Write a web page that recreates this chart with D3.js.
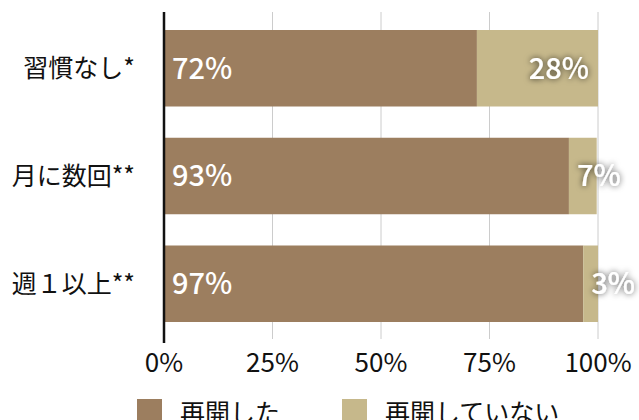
<!DOCTYPE html>
<html>
<head>
<meta charset="utf-8">
<script src="https://cdn.jsdelivr.net/npm/d3@7"></script>
<style>
  body { margin: 0; background: #fff; }
  svg { display: block; font-family: "Noto Sans CJK JP", "Noto Sans", sans-serif; }
</style>
</head>
<body>
<svg id="chart" width="639" height="420"></svg>
<script>
const categories = ['習慣なし*', '月に数回**', '週１以上**'];
const resumed = [72.1, 93.3, 96.6];
const notResumed = [27.9, 6.4, 3.4];
const resumedLabels = ['72%', '93%', '97%'];
const notResumedLabels = ['28%', '7%', '3%'];
const seriesNames = ['再開した', '再開していない'];
const tickValues = [0, 25, 50, 75, 100];

const colors = ['#9c7e5f', '#c6b88b'];

const svg = d3.select('#chart');

// drop shadow for labels on light segments
const defs = svg.append('defs');
defs.append('filter')
    .attr('id', 'shadow')
    .attr('x', '-30%').attr('y', '-40%')
    .attr('width', '160%').attr('height', '180%')
  .append('feDropShadow')
    .attr('dx', 0).attr('dy', 0)
    .attr('stdDeviation', 3)
    .attr('flood-color', '#000')
    .attr('flood-opacity', 0.75);

//scales
const x = d3.scaleLinear().domain([0, 100]).range([164, 598]);
const y = d3.scaleBand().domain(categories).range([30, 322]).paddingInner(0.29);

//grid lines
svg.append('g')
    .selectAll('line')
    .data(tickValues.slice(1))
    .enter()
    .append('line')
    .attr('x1', d => x(d)).attr('x2', d => x(d))
    .attr('y1', 12).attr('y2', 339)
    .attr('stroke', '#cccccc')
    .attr('stroke-width', 1);

//bars
const rows = categories.map((c, i) => ({ cat: c, a: resumed[i], b: notResumed[i], la: resumedLabels[i], lb: notResumedLabels[i] }));

svg.append('g').selectAll('rect')
    .data(rows).enter().append('rect')
    .attr('x', x(0))
    .attr('y', d => y(d.cat))
    .attr('width', d => x(d.a) - x(0))
    .attr('height', y.bandwidth())
    .attr('fill', colors[0]);

svg.append('g').selectAll('rect')
    .data(rows).enter().append('rect')
    .attr('x', d => x(d.a))
    .attr('y', d => y(d.cat))
    .attr('width', d => x(d.a + d.b) - x(d.a))
    .attr('height', y.bandwidth())
    .attr('fill', colors[1]);

//value labels
svg.append('g').selectAll('text')
    .data(rows).enter().append('text')
    .attr('x', x(0) + 8)
    .attr('y', d => y(d.cat) + y.bandwidth() / 2)
    .attr('dy', '0.36em')
    .attr('fill', '#fff')
    .style('font-size', '29px')
    .style('font-weight', 500)
    .text(d => d.la);

svg.append('g').selectAll('text')
    .data(rows).enter().append('text')
    .attr('y', d => y(d.cat) + y.bandwidth() / 2)
    .attr('dy', '0.36em')
    .attr('fill', '#fff')
    .attr('filter', 'url(#shadow)')
    .style('font-size', '29px')
    .style('font-weight', 500)
    .text(d => d.lb)
    .each(function(d) {
        const w = this.getComputedTextLength();
        const start = x(d.a), end = x(d.a + d.b);
        d3.select(this).attr('x', Math.max(start + 8, end - 9 - w));
    });

//category labels
svg.append('g').selectAll('text')
    .data(categories).enter().append('text')
    .attr('x', 135)
    .attr('y', d => y(d) + y.bandwidth() / 2)
    .attr('dy', '0.36em')
    .attr('text-anchor', 'end')
    .attr('fill', '#111')
    .style('font-size', '25px')
    .text(d => d);

//axis line
svg.append('line')
    .attr('x1', x(0)).attr('x2', x(0))
    .attr('y1', 12).attr('y2', 343)
    .attr('stroke', '#111')
    .attr('stroke-width', 2.5);

//tick labels
svg.append('g').selectAll('text')
    .data(tickValues).enter().append('text')
    .attr('x', d => x(d))
    .attr('y', 372)
    .attr('text-anchor', 'middle')
    .attr('fill', '#111')
    .style('font-size', '26px')
    .text(d => d + '%');

//legend
const legendX = [137, 342];
const legend = svg.append('g').selectAll('g')
    .data(seriesNames).enter().append('g')
    .attr('transform', (d, i) => `translate(${legendX[i]},399)`);
legend.append('rect')
    .attr('width', 25).attr('height', 25)
    .attr('fill', (d, i) => colors[i]);
legend.append('text')
    .attr('x', 43)
    .attr('y', 23)
    .attr('fill', '#111')
    .style('font-size', '25px')
    .text(d => d);
</script>
</body>
</html>
